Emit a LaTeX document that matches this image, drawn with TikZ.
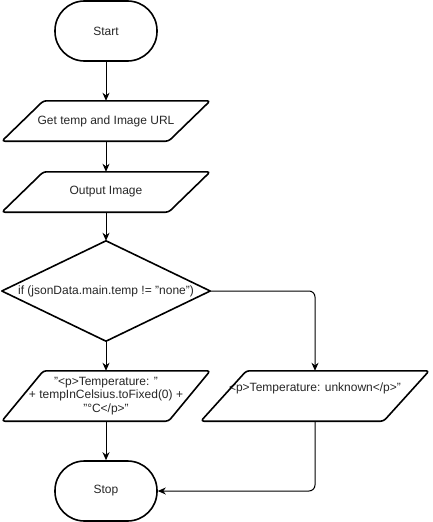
\documentclass[tikz,border=0pt]{standalone}
\usepackage{fontspec}
\setmainfont{Liberation Sans}
\usetikzlibrary{arrows.meta,calc}
\tikzset{
  txt/.style={font=\fontsize{12}{13.5}\selectfont, text=black!85},
  term/.style={txt, draw, line width=1.6pt, rounded corners=29.5pt, minimum width=102pt, minimum height=60pt, inner sep=0pt},
  boxarea/.style={txt, inner sep=0pt, minimum width=#1},
  shapeline/.style={line width=1.6pt, rounded corners=3pt, line join=round},
  conn/.style={line width=1pt, -{Stealth[length=8pt,width=7pt,inset=2.5pt]}}
}
\begin{document}
\begin{tikzpicture}[x=1pt,y=-1pt]
\useasboundingbox (0,0) rectangle (432,522);
% nodes
\node[term] (start) at (106,31) {Start};
\node[boxarea=208pt, minimum height=40pt] (get) at (106,121) {Get temp and Image URL};
\node[boxarea=208pt, minimum height=40pt] (out) at (106,192) {Output Image};
\node[boxarea=208pt, minimum height=100pt] (dec) at (106,291) {if (jsonData.main.temp != "none")};
\node[boxarea=208pt, minimum height=50pt, align=center] (lp) at (106,396) {"<p>Temperature: "\\+ tempInCelsius.toFixed(0) +\\"°C</p>"};
\node[boxarea=228pt, minimum height=50pt, text height=9pt, text depth=18.4pt] (rp) at (315,396) {<p>Temperature: unknown</p>"};
\node[term] (stop) at (106,491) {Stop};
% shapes
\draw[shapeline] ($(get.north west)+(41.6,0)$) -- (get.north east) -- ($(get.south east)-(41.6,0)$) -- (get.south west) -- cycle;
\draw[shapeline] ($(out.north west)+(41.6,0)$) -- (out.north east) -- ($(out.south east)-(41.6,0)$) -- (out.south west) -- cycle;
\draw[line width=1.6pt, line join=round] (dec.north) -- (dec.east) -- (dec.south) -- (dec.west) -- cycle;
\draw[shapeline] ($(lp.north west)+(41.6,0)$) -- (lp.north east) -- ($(lp.south east)-(41.6,0)$) -- (lp.south west) -- cycle;
\draw[shapeline] ($(rp.north west)+(45.6,0)$) -- (rp.north east) -- ($(rp.south east)-(45.6,0)$) -- (rp.south west) -- cycle;
% connectors
\draw[conn] (start) -- (get);
\draw[conn] (get) -- (out);
\draw[conn] (out) -- (dec.north);
\draw[conn] (dec.south) -- (lp);
\draw[conn] (lp) -- (stop);
\draw[conn, rounded corners=6pt] (dec.east) -| (rp.north);
\draw[conn, rounded corners=6pt] (rp.south) |- (stop.east);
\end{tikzpicture}
\end{document}
